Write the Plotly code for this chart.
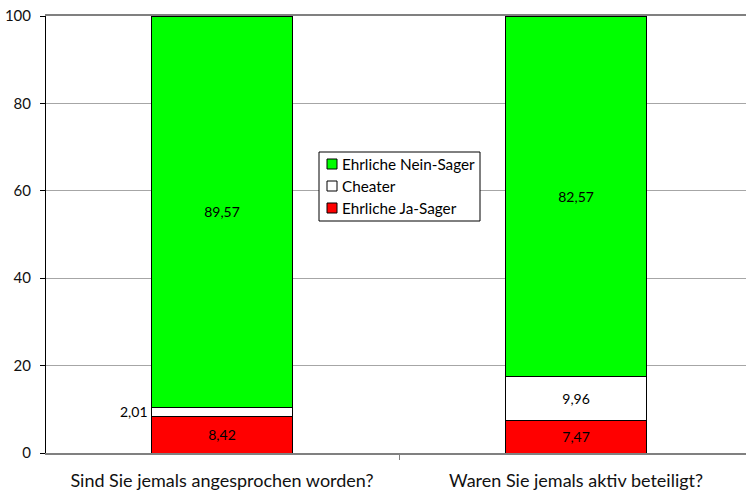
import plotly.graph_objects as go

categories = ["Sind Sie jemals angesprochen worden?", "Waren Sie jemals aktiv beteiligt?"]
ja_sager = [8.42, 7.47]
cheater = [2.01, 9.96]
nein_sager = [89.57, 82.57]
y_ticks = [0, 20, 40, 60, 80, 100]

series_names = ["Ehrliche Ja-Sager", "Cheater", "Ehrliche Nein-Sager"]
series_colors = ["#ff0000", "#ffffff", "#00ff00"]

FONT = "Lato, 'Open Sans', sans-serif"

# figure / plot-area geometry in pixels
W, H = 746, 491
ML, MR, MT, MB = 46, 0, 16, 38
PW, PH = W - ML - MR, H - MT - MB


def fmt(v):
    return f"{v:.2f}".replace(".", ",")


def px_x(p):
    return (p - ML) / PW


def px_y(p):
    return (H - MB - p) / PH


fig = go.Figure()
bar_line = dict(color="black", width=1)
label_font = dict(color="black", size=14, family=FONT)

fig.add_trace(go.Bar(
    name=series_names[0], x=categories, y=ja_sager,
    marker=dict(color=series_colors[0], line=bar_line),
    text=[fmt(v) for v in ja_sager], textposition="inside",
    insidetextanchor="middle", textfont=label_font, showlegend=False,
))
# the thin first cheater segment gets its label beside the bar instead
fig.add_trace(go.Bar(
    name=series_names[1], x=categories, y=cheater,
    marker=dict(color=series_colors[1], line=bar_line),
    text=["", fmt(cheater[1])], textposition="inside",
    insidetextanchor="middle", textfont=label_font, showlegend=False,
))
fig.add_trace(go.Bar(
    name=series_names[2], x=categories, y=nein_sager,
    marker=dict(color=series_colors[2], line=bar_line),
    text=[fmt(v) for v in nein_sager], textposition="inside",
    insidetextanchor="middle", textfont=label_font, showlegend=False,
))

fig.add_annotation(
    x=categories[0], y=ja_sager[0] + cheater[0] / 2, xref="x", yref="y",
    text=fmt(cheater[0]), showarrow=False, xanchor="right", xshift=-72,
    font=label_font,
)

# legend box with small square swatches, newest series on top
shapes = [dict(
    type="rect", xref="paper", yref="paper",
    x0=px_x(319), x1=px_x(480), y0=px_y(221), y1=px_y(152),
    line=dict(color="black", width=1), fillcolor="white", layer="above",
)]
for i, (name, color) in enumerate(zip(reversed(series_names), reversed(series_colors))):
    cy = 164 + 22 * i
    shapes.append(dict(
        type="rect", xref="paper", yref="paper",
        x0=px_x(327), x1=px_x(337), y0=px_y(cy + 5), y1=px_y(cy - 5),
        line=dict(color="black", width=1), fillcolor=color, layer="above",
    ))
    fig.add_annotation(
        x=px_x(340), y=px_y(cy), xref="paper", yref="paper",
        text=name, showarrow=False, xanchor="left", yanchor="middle",
        font=dict(color="black", size=15.3, family=FONT),
    )

fig.update_layout(
    width=W, height=H,
    margin=dict(l=ML, r=MR, t=MT, b=MB),
    paper_bgcolor="white", plot_bgcolor="white",
    barmode="stack", bargap=0.6,
    showlegend=False,
    shapes=shapes,
    font=dict(family=FONT, color="black"),
    uniformtext=dict(mode="show", minsize=10),
)
fig.update_xaxes(
    type="category", range=[-0.497, 1.48],
    showline=True, linecolor="#808080", linewidth=2, mirror=True,
    ticks="outside", tickson="boundaries", ticklen=5, tickcolor="#808080",
    ticklabelstandoff=10,
    tickfont=dict(size=18, family=FONT, color="#111"),
    showgrid=False,
)
fig.update_yaxes(
    range=[0, 100], tickvals=y_ticks,
    showline=True, linecolor="black", linewidth=1,
    ticks="outside", ticklen=5, tickcolor="black",
    ticklabelstandoff=6,
    tickfont=dict(size=15, family=FONT, color="#111"),
    showgrid=True, gridcolor="#a6a6a6", gridwidth=1,
    zeroline=False,
)

fig.write_html("out.html")
